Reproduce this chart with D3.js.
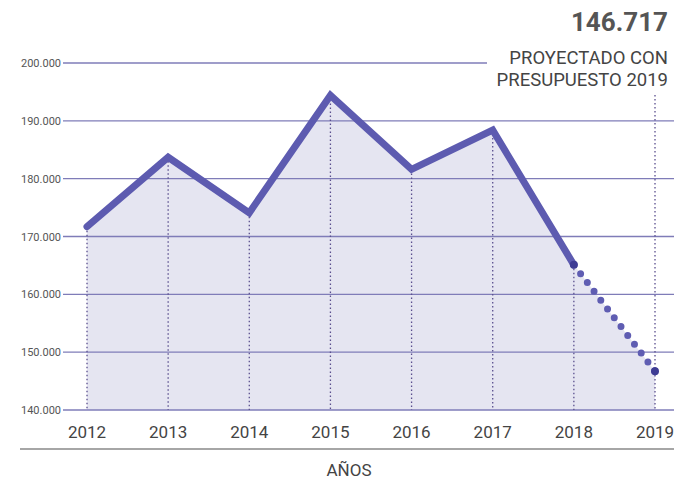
<!DOCTYPE html>
<html>
  <head>
    <meta charset="UTF-8">
    <script src="https://d3js.org/d3.v7.min.js"></script>
    <style>
        body { margin: 0; background: #fff; }
        * { font-family: Roboto, sans-serif; }
        .tickLabel { font-size: 11px; fill: #555; text-anchor: end; }
        .yearLabel { font-size: 17px; fill: #444; text-anchor: middle; }
        .axisTitle { font-size: 17px; fill: #444; text-anchor: middle; }
        .bigValue { font-size: 26px; font-weight: bold; fill: #555; text-anchor: end; }
        .note { font-size: 18.5px; fill: #444; text-anchor: end; }
    </style>
  </head>
  <body>
    <script>
        let years = ['2012', '2013', '2014', '2015', '2016', '2017', '2018', '2019']
        let values = [171700, 183700, 174100, 194400, 181600, 188400, 165100, 146717]
        let yTicks = [140000, 150000, 160000, 170000, 180000, 190000, 200000]
        let projectedFrom = '2018'

        let svgWidth = 674, svgHeight = 482
        let fmt = d3.format(',.0f')
        let label = v => fmt(v).replace(/,/g, '.')

        let x = d3.scalePoint().domain(years).range([87, 655])
        let y = d3.scaleLinear().domain([140000, 200000]).range([410, 63])

        let svg = d3.select('body').append('svg')
            .attr('width', svgWidth)
            .attr('height', svgHeight)

        let pts = years.map((d, i) => ({ year: d, value: values[i] }))
        let split = years.indexOf(projectedFrom)

        // area under the line
        svg.append('path')
            .datum(pts)
            .attr('fill', '#e5e5f1')
            .attr('d', d3.area().x(d => x(d.year)).y0(y(140000)).y1(d => y(d.value)))

        // gridlines
        svg.selectAll('.grid')
            .data(yTicks)
            .enter()
            .append('line')
            .attr('x1', 63)
            .attr('x2', d => d === 200000 ? 487 : svgWidth)
            .attr('y1', d => y(d))
            .attr('y2', d => y(d))
            .attr('stroke', '#7f7cb8')
            .attr('stroke-width', 1.4)

        svg.selectAll('.tickLabel')
            .data(yTicks)
            .enter()
            .append('text')
            .attr('class', 'tickLabel')
            .attr('x', 61)
            .attr('y', d => y(d) + 4)
            .text(d => label(d))

        // vertical dotted drop lines
        svg.selectAll('.drop')
            .data(pts)
            .enter()
            .append('line')
            .attr('x1', d => x(d.year))
            .attr('x2', d => x(d.year))
            .attr('y1', d => d.year === '2019' ? 95 : y(d.value))
            .attr('y2', y(140000))
            .attr('stroke', '#5a4f8e')
            .attr('stroke-width', 1.3)
            .attr('stroke-dasharray', '1.5,2.5')

        let line = d3.line().x(d => x(d.year)).y(d => y(d.value))

        svg.append('path')
            .datum(pts.slice(0, split + 1))
            .attr('fill', 'none')
            .attr('stroke', '#5d5bb0')
            .attr('stroke-width', 7)
            .attr('stroke-linejoin', 'miter')
            .attr('stroke-linecap', 'round')
            .attr('d', line)

        // projected segment, drawn as dots
        svg.append('path')
            .datum(pts.slice(split))
            .attr('fill', 'none')
            .attr('stroke', '#5f5db2')
            .attr('stroke-width', 7)
            .attr('stroke-linecap', 'round')
            .attr('stroke-dasharray', '0,11.1')
            .attr('d', line)

        svg.selectAll('.endDot')
            .data(pts.slice(split))
            .enter()
            .append('circle')
            .attr('cx', d => x(d.year))
            .attr('cy', d => y(d.value))
            .attr('r', 4)
            .attr('fill', '#3e3c94')

        svg.selectAll('.yearLabel')
            .data(years)
            .enter()
            .append('text')
            .attr('class', 'yearLabel')
            .attr('x', d => x(d))
            .attr('y', 438)
            .text(d => d)

        svg.append('line')
            .attr('x1', 20)
            .attr('x2', svgWidth)
            .attr('y1', 449)
            .attr('y2', 449)
            .attr('stroke', '#888')
            .attr('stroke-width', 1.5)

        svg.append('text')
            .attr('class', 'axisTitle')
            .attr('x', 349)
            .attr('y', 476)
            .text('AÑOS')

        svg.append('text')
            .attr('class', 'bigValue')
            .attr('x', 668)
            .attr('y', 31)
            .text(label(values[values.length - 1]))

        svg.append('text')
            .attr('class', 'note')
            .attr('x', 668)
            .attr('y', 64)
            .text('PROYECTADO CON')

        svg.append('text')
            .attr('class', 'note')
            .attr('x', 668)
            .attr('y', 86)
            .text('PRESUPUESTO 2019')
    </script>
  </body>
</html>
